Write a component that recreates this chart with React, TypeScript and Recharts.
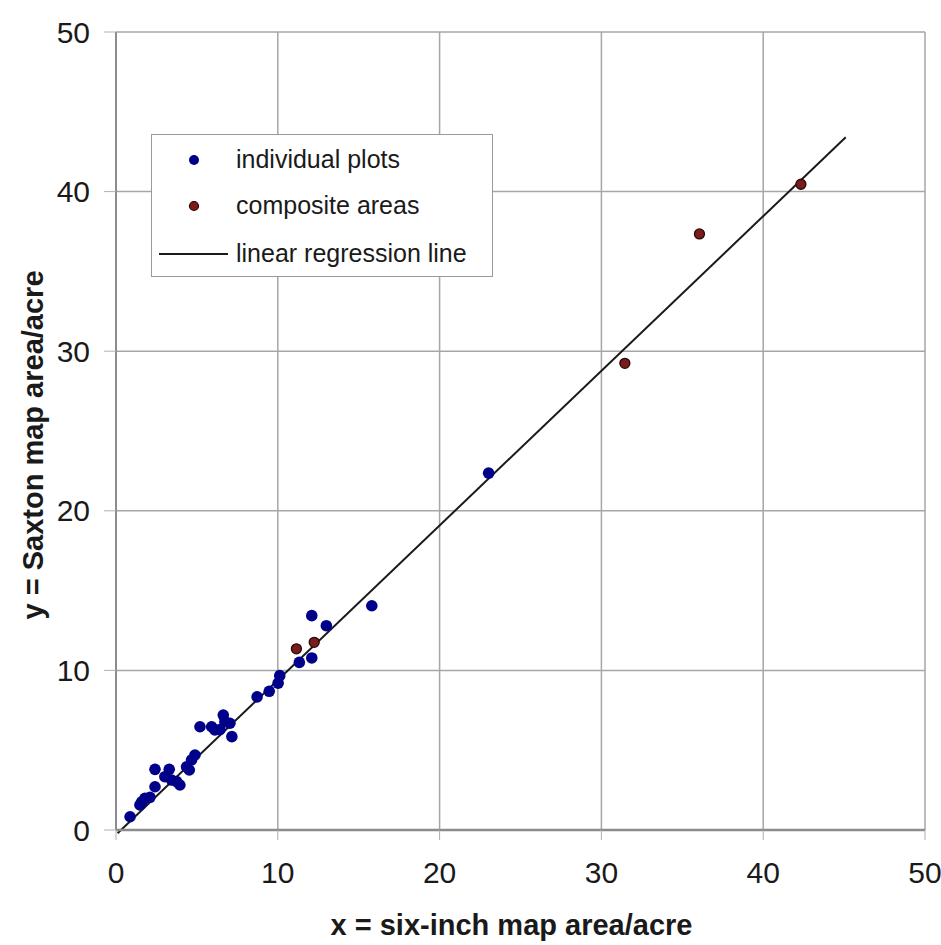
import React from "react"
import { ScatterChart, Scatter, XAxis, YAxis, CartesianGrid, ReferenceLine, Legend, Label } from "recharts"

// individual plots, [x, y]
const individualX = [0.87, 1.48, 1.59, 1.79, 2.1, 2.41, 2.41, 3.02, 3.29, 3.44, 3.75, 3.95, 4.36, 4.53, 4.67, 4.88, 5.19, 5.91, 6.11, 6.42, 6.63, 6.73, 7.04, 7.16, 8.72, 9.47, 10.02, 10.12, 11.33, 12.1, 12.1, 13.0, 15.81, 23.03]
const individualY = [0.83, 1.57, 1.77, 1.98, 2.05, 2.71, 3.8, 3.34, 3.8, 3.13, 3.03, 2.82, 3.96, 3.76, 4.39, 4.7, 6.47, 6.47, 6.27, 6.29, 7.2, 6.79, 6.69, 5.85, 8.34, 8.69, 9.2, 9.67, 10.5, 10.78, 13.43, 12.8, 14.05, 22.36]

// composite areas
const compositeX = [11.15, 12.25, 31.45, 36.06, 42.33]
const compositeY = [11.35, 11.76, 29.24, 37.35, 40.46]

// regression line end points
const regressionX = [0.1, 45.1]
const regressionY = [-0.2, 43.4]

const axisTicks = [0, 10, 20, 30, 40, 50]

const FONT = '"Liberation Sans", Arial, sans-serif'
const NAVY = "#00008a"
const MAROON = "#7a1c1c"

const individual = individualX.map((x, i) => ({ x, y: individualY[i] }))
const composite = compositeX.map((x, i) => ({ x, y: compositeY[i] }))

const IndividualDot = (props: any) => <circle cx={props.cx} cy={props.cy} r={5.8} fill={NAVY} />
const CompositeDot = (props: any) => (
  <circle cx={props.cx} cy={props.cy} r={5} fill={MAROON} stroke="#2a0606" strokeWidth={1.3} />
)

const LegendBox = () => {
  const text = { position: "absolute" as const, left: 84, fontSize: 25, color: "#1a1a1a", lineHeight: "30px", whiteSpace: "nowrap" as const }
  return (
    <div
      style={{
        position: "relative",
        width: 342,
        height: 143,
        border: "1px solid #9a9a9a",
        background: "#fff",
        fontFamily: FONT,
        boxSizing: "border-box",
      }}
    >
      <svg width={342} height={143} style={{ position: "absolute", left: 0, top: 0 }}>
        <circle cx={42} cy={25} r={5} fill={NAVY} />
        <circle cx={42} cy={71} r={4.5} fill={MAROON} stroke="#2a0606" strokeWidth={1.2} />
        <line x1={7} x2={76} y1={119} y2={119} stroke="#1a1a1a" strokeWidth={2} />
      </svg>
      <div style={{ ...text, top: 25 - 16 }}>individual plots</div>
      <div style={{ ...text, top: 71 - 16 }}>composite areas</div>
      <div style={{ ...text, top: 119 - 16 }}>linear regression line</div>
    </div>
  )
}

const XTitle = (props: any) => {
  const { viewBox } = props
  return (
    <text x={viewBox.x + viewBox.width / 2 - 9} y={935} textAnchor="middle" fontSize={29} fontWeight="bold" fill="#1a1a1a" fontFamily={FONT}>
      x = six-inch map area/acre
    </text>
  )
}

const YTitle = () => (
  <text x={43} y={445} transform="rotate(-90, 43, 445)" textAnchor="middle" fontSize={29} fontWeight="bold" fill="#1a1a1a" fontFamily={FONT}>
    y = Saxton map area/acre
  </text>
)

export default function App() {
  const tick = { fontSize: 30, fill: "#1a1a1a", fontFamily: FONT }
  return (
    <div style={{ position: "absolute", left: 0, top: 0, width: 941, height: 945, background: "#fff" }}>
      <ScatterChart width={941} height={945} margin={{ top: 32, right: 16, bottom: 0, left: 0 }}>
        <CartesianGrid stroke="#a6a6a6" strokeWidth={1.5} />
        <XAxis
          type="number"
          dataKey="x"
          domain={[0, 50]}
          ticks={axisTicks}
          interval={0}
          height={115}
          tickSize={10}
          tickMargin={22}
          tick={tick}
          stroke="#8c8c8c"
          axisLine={{ stroke: "#8c8c8c", strokeWidth: 2.5 }}
          tickLine={{ stroke: "#b0b0b0" }}
        >
          <Label content={<XTitle />} />
        </XAxis>
        <YAxis
          type="number"
          dataKey="y"
          domain={[0, 50]}
          ticks={axisTicks}
          interval={0}
          width={116}
          tickSize={12}
          tickMargin={14}
          tick={tick}
          stroke="#8c8c8c"
          axisLine={{ stroke: "#8c8c8c", strokeWidth: 2 }}
          tickLine={{ stroke: "#b0b0b0" }}
        >
          <Label content={<YTitle />} />
        </YAxis>
        <ReferenceLine
          segment={[
            { x: regressionX[0], y: regressionY[0] },
            { x: regressionX[1], y: regressionY[1] },
          ]}
          stroke="#1a1a1a"
          strokeWidth={2}
          ifOverflow="visible"
        />
        <Scatter name="individual plots" data={individual} shape={IndividualDot} isAnimationActive={false} />
        <Scatter name="composite areas" data={composite} shape={CompositeDot} isAnimationActive={false} />
        <Legend
          layout="vertical"
          align="center"
          verticalAlign="middle"
          content={<LegendBox />}
          wrapperStyle={{ left: 151, top: 134, width: 342, height: 143 }}
        />
      </ScatterChart>
    </div>
  )
}
